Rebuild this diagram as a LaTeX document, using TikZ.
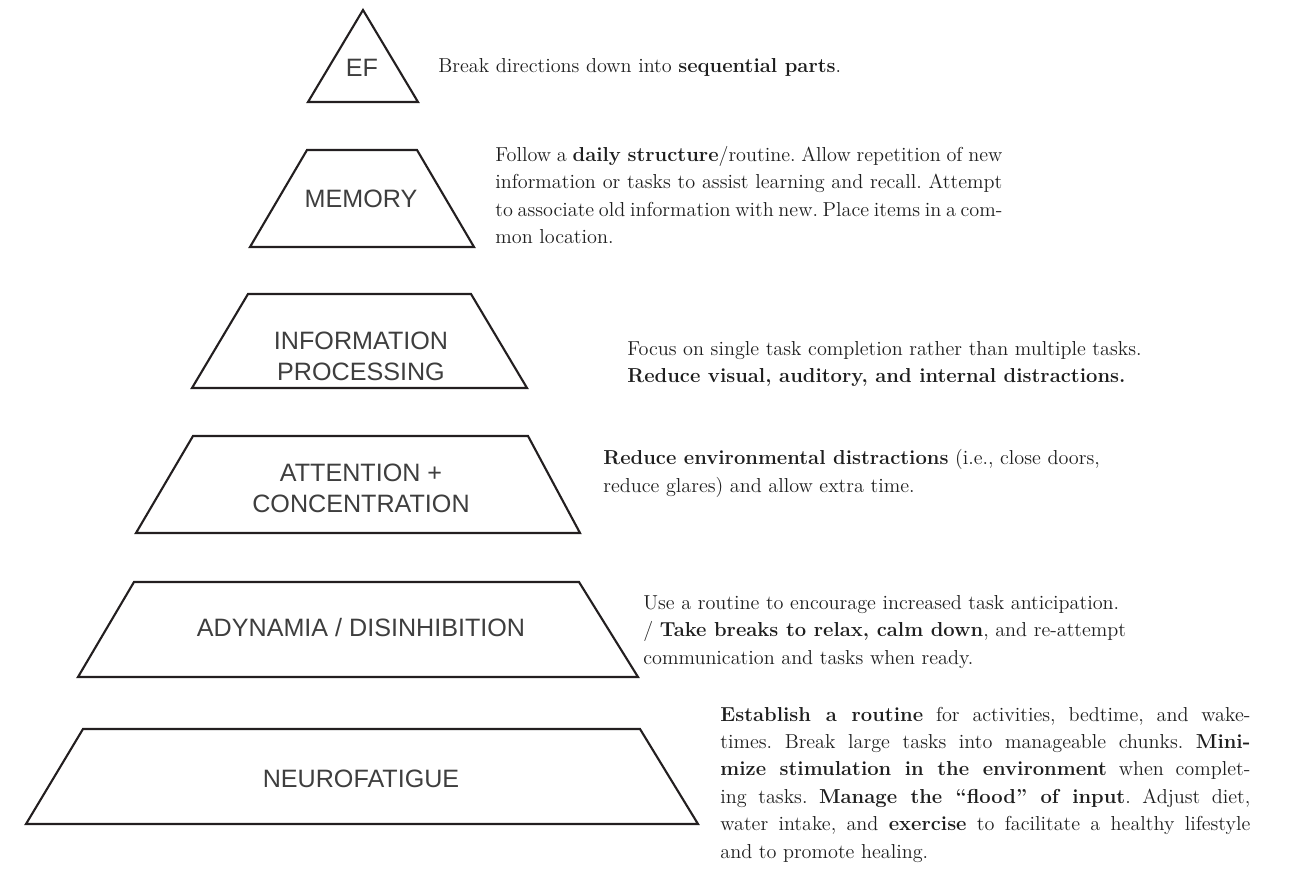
\documentclass[tikz,border=0pt]{standalone}
\usepackage{fontspec}
\usepackage{xcolor}
\usepackage{tikz}
\newfontfamily\tierfont{Liberation Sans}
\definecolor{LineBlack}{RGB}{35, 31, 32}
\definecolor{LabelGray}{RGB}{62, 62, 62}
\definecolor{TextBlack}{RGB}{30, 30, 30}
\tikzstyle{tier} = [draw=LineBlack, line width=1.2pt, line join=miter]
\tikzstyle{tiername} = [text=LabelGray, font=\tierfont\fontsize{14.3}{17.5}\selectfont, align=center, inner sep=0pt]
\tikzstyle{advice} = [text=TextBlack, font=\fontsize{11.5}{15.6}\selectfont\frenchspacing, align=left, anchor=west, inner sep=0pt]
\tikzstyle{blockadvice} = [advice, align=justify]

\begin{document}
\begin{tikzpicture}
\useasboundingbox (0,0) rectangle (26.28,17.46);

% Level 1
\draw [tier] (7.26,17.26) -- (8.36,15.42) -- (6.16,15.42) -- cycle;
\node (ef) [tiername] at (7.24,16.10) {EF};
\node (eftext) [advice] at (8.76,16.12) {Break directions down into \textbf{sequential parts}.};

% Level 2
\draw [tier] (6.14,14.46) -- (8.34,14.46) -- (9.48,12.52) -- (5.00,12.52) -- cycle;
\node (memory) [tiername] at (7.22,13.48) {MEMORY};
\node (memtext) [blockadvice, text width=10.14cm] at (9.90,13.56) {Follow a \textbf{daily structure}/routine. Allow repetition of new\linebreak information or tasks to assist learning and recall. Attempt\linebreak to associate old information with new. Place items in a com-\linebreak mon location.};

% Level 3
\draw [tier] (4.96,11.58) -- (9.42,11.58) -- (10.54,9.70) -- (3.84,9.70) -- cycle;
\node (info) [tiername] at (7.22,10.34) {INFORMATION\\PROCESSING};
\node (infotext) [advice] at (12.54,10.18) {Focus on single task completion rather than multiple tasks.\\\textbf{Reduce visual, auditory, and internal distractions.}};

% Level 4
\draw [tier] (3.86,8.74) -- (10.56,8.74) -- (11.60,6.80) -- (2.72,6.80) -- cycle;
\node (attention) [tiername] at (7.22,7.70) {ATTENTION +\\CONCENTRATION};
\node (atttext) [advice] at (12.06,7.99) {\textbf{Reduce environmental distractions} (i.e., close doors,\\reduce glares) and allow extra time.};

% Level 5
\draw [tier] (2.68,5.82) -- (11.58,5.82) -- (12.76,3.92) -- (1.56,3.92) -- cycle;
\node (adynamia) [tiername] at (7.22,4.90) {ADYNAMIA / DISINHIBITION};
\node (adytext) [advice] at (12.86,4.82) {Use a routine to encourage increased task anticipation.\\/ \textbf{Take breaks to relax, calm down}, and re-attempt\\communication and tasks when ready.};

% Level 6
\draw [tier] (1.66,2.88) -- (12.80,2.88) -- (13.96,0.98) -- (0.52,0.98) -- cycle;
\node (neuro) [tiername] at (7.22,1.88) {NEUROFATIGUE};
\node (neurotext) [blockadvice, text width=10.6cm] at (14.40,1.77) {\textbf{Establish a routine} for activities, bedtime, and wake-\linebreak times. Break large tasks into manageable chunks. \textbf{Mini-}\linebreak \textbf{mize stimulation in the environment} when complet-\linebreak ing tasks. \textbf{Manage the “flood” of input}. Adjust diet,\linebreak water intake, and \textbf{exercise} to facilitate a healthy lifestyle\linebreak and to promote healing.};

\end{tikzpicture}
\end{document}
